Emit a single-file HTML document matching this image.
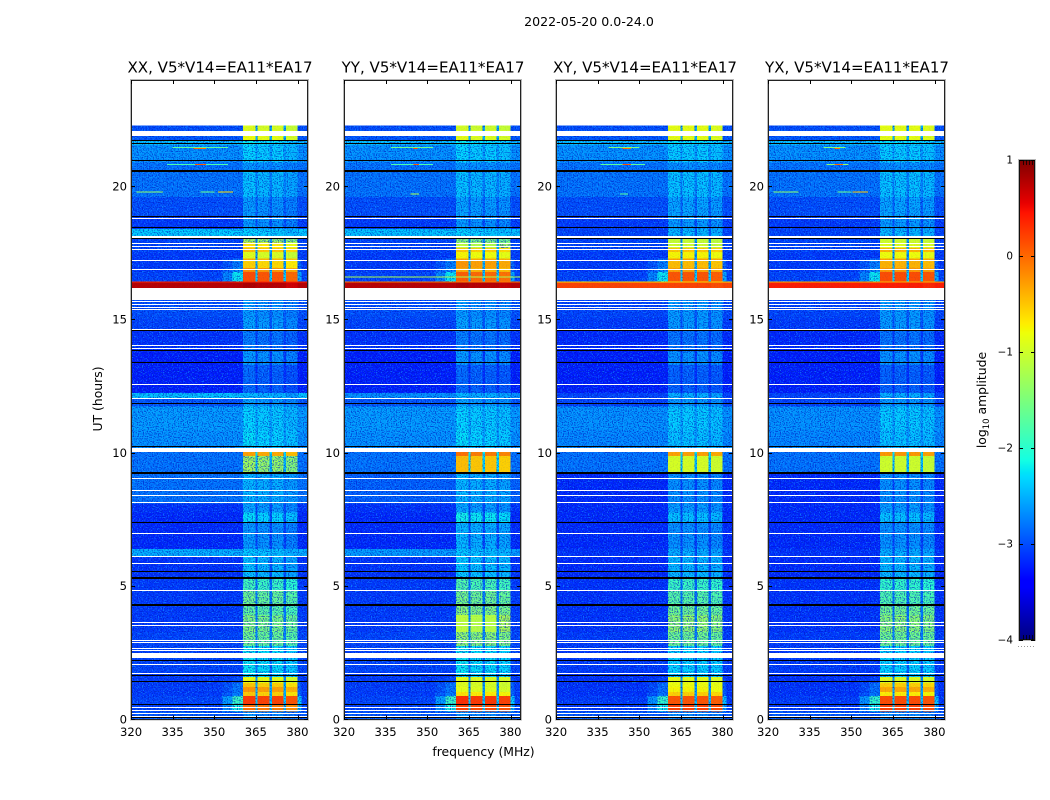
<!DOCTYPE html>
<html lang="en">
<head>
<meta charset="utf-8">
<title>2022-05-20 amplitude waterfall</title>
<style>
html,body{margin:0;padding:0;background:#fff;}
svg{display:block;}
text{font-family:"DejaVu Sans","Liberation Sans",sans-serif;fill:#000;}
.tick{font-size:11.6px;}
.ptitle{font-size:15.05px;text-anchor:middle;}
.label{font-size:12.4px;text-anchor:middle;}
</style>
</head>
<body>
<svg id="figure" xmlns="http://www.w3.org/2000/svg" width="1050" height="800" viewBox="0 0 1050 800">
  <defs>
    <filter id="speckle-light" x="0" y="0" width="100%" height="100%" color-interpolation-filters="sRGB">
      <feTurbulence type="fractalNoise" baseFrequency="0.8" numOctaves="1" seed="7"/>
      <feColorMatrix type="matrix" values="0 0 0 0 0.1  0 0 0 0 0.72  0 0 0 0 1  8 0 0 0 -4.3"/>
    </filter>
    <filter id="speckle-dark" x="0" y="0" width="100%" height="100%" color-interpolation-filters="sRGB">
      <feTurbulence type="fractalNoise" baseFrequency="0.8" numOctaves="1" seed="23"/>
      <feColorMatrix type="matrix" values="0 0 0 0 0  0 0 0 0 0.08  0 0 0 0 0.75  8 0 0 0 -4.1"/>
    </filter>
  </defs>
  <text x="589" y="26" style="font-size:12.6px;text-anchor:middle">2022-05-20 0.0-24.0</text>
  <text class="label" x="483.5" y="756">frequency (MHz)</text>
  <text class="label" transform="translate(102 399) rotate(-90)">UT (hours)</text>
  <text class="label" transform="translate(986 400) rotate(-90)">log<tspan dy="3" style="font-size:8.5px">10</tspan><tspan dy="-3"> amplitude</tspan></text>
  <g id="panels"></g>
  <g id="colorbar"></g>
</svg>
<script>
// ---- categories and axes ----
const polarizations = ["XX", "YY", "XY", "YX"];
const baselineLabel = "V5*V14=EA11*EA17";
const freqTicks = [320, 335, 350, 365, 380];
const hourTicks = [0, 5, 10, 15, 20];
const colorbarTicks = [1, 0, -1, -2, -3, -4];
const colorbarTickLabels = ["1", "0", "\u22121", "\u22122", "\u22123", "\u22124"];

// frequency bins (MHz): background, skirt, four sub-bands with gaps, roll-off
const freqEdges = [320, 353, 356.5, 360.4, 364.9, 365.5, 369.9, 370.9, 374.9, 375.9, 380, 381.5, 383.8];

// start hour (UT) of each time bin; last bin ends at dataEndHour
const timeBins = [0, 0.3, 0.54, 0.88, 1.03, 1.22, 1.37, 1.6, 1.76, 2.3,
  2.76, 3.28, 3.92, 4.3, 4.86, 5.27, 6.13, 6.4, 7.4, 7.76,
  8.1, 9.25, 9.88, 10.07, 10.25, 10.85, 11.75, 12.05, 12.25, 13.3,
  13.8, 14.6, 15.05, 16, 16.2, 16.4, 16.8, 16.95, 17.2, 17.3,
  17.55, 17.7, 17.9, 18.05, 18.1, 18.4, 18.9, 19.6, 20.55, 20.9,
  21.55, 21.75, 22.1];
const dataEndHour = 22.28;

// out-of-band level, log10 amplitude
const bgXX = [-2.95, -3.05, -3.05, -3.1, -3.1, -3.1, -3.1, -3.1, -3.05, -3.05,
  -3.05, -3.1, -3.1, -3.1, -3.1, -3.15, -2.5, -3.2, -3.2, -3.15,
  -2.8, -2.8, -2.8, -2.65, -2.65, -2.6, -2.95, -2.4, -3.25, -3.25,
  -3.15, -3.05, -3, -3.25, 0.75, -3.05, -3.1, -3.1, -3.1, -3.1,
  -3.05, -3.05, -3.05, -3.05, -2.35, -3.1, -3, -2.8, -2.8, -2.65,
  -2.4, -2.95, -3];
const bgYY = [-2.95, -3.05, -3.05, -3.1, -3.1, -3.1, -3.1, -3.1, -3.05, -3.05,
  -3.05, -3.1, -3.1, -3.1, -3.1, -3.15, -2.6, -3.2, -3.2, -3.15,
  -2.9, -2.8, -2.8, -2.65, -2.65, -2.6, -2.95, -2.65, -3.25, -3.25,
  -3.15, -3.05, -3, -3.25, 0.75, -3.05, -3.1, -3.1, -3.1, -3.1,
  -3.05, -3.05, -3.05, -3.05, -2.4, -3.1, -3, -2.8, -2.8, -2.65,
  -2.4, -2.95, -3];
const bgXY = [-2.95, -3.1, -3.1, -3.15, -3.15, -3.15, -3.15, -3.15, -3.1, -3.1,
  -3.1, -3.15, -3.15, -3.15, -3.15, -3.2, -3.15, -3.2, -3.2, -3.2,
  -3.2, -2.8, -2.8, -2.65, -2.7, -2.65, -3.05, -3.05, -3.25, -3.25,
  -3.2, -3.1, -3.05, -3.25, 0.2, -3.05, -3.1, -3.1, -3.1, -3.1,
  -3.05, -3.05, -3.05, -3.05, -3.05, -3.1, -3, -2.8, -2.8, -2.65,
  -2.4, -2.95, -3];
const bgYX = [-2.95, -3.1, -3.1, -3.15, -3.15, -3.15, -3.15, -3.15, -3.1, -3.1,
  -3.1, -3.15, -3.15, -3.15, -3.15, -3.2, -3.15, -3.2, -3.2, -3.2,
  -3.2, -2.8, -2.8, -2.65, -2.7, -2.65, -3.05, -3.05, -3.25, -3.25,
  -3.2, -3.1, -3.05, -3.25, 0.4, -3.05, -3.1, -3.1, -3.1, -3.1,
  -3.05, -3.05, -3.05, -3.05, -3.05, -3.1, -3, -2.8, -2.8, -2.65,
  -2.4, -2.95, -3];

// in-band level, log10 amplitude
const bandXX = [-2.7, -0.1, 0.2, -0.55, -0.3, -0.55, -0.85, -2.3, -2.25, -2.25,
  -1.6, -1.5, -1.7, -1.6, -1.9, -2.45, -2.4, -2.65, -2.3, -2.6,
  -2.5, -1.3, -0.35, -2.45, -2.3, -2.35, -2.6, -2.5, -2.9, -2.65,
  -2.8, -2.6, -2.65, -1.8, 0.75, 0.1, -0.25, -0.6, -0.4, -0.95,
  -0.5, -0.7, -1.3, -2.5, -2.35, -2.65, -2.65, -2.45, -2.65, -2.35,
  -2.25, -0.85, -0.95];
const bandYY = [-2.7, 0.15, 0.25, -0.7, -0.9, -0.95, -0.9, -2.3, -2.25, -2.25,
  -1.4, -1.15, -1.45, -1.55, -1.8, -2.4, -2.4, -2.5, -2.2, -2.6,
  -2.5, -0.5, -0.1, -2.45, -2.3, -2.35, -2.6, -2.5, -2.9, -2.65,
  -2.8, -2.6, -2.65, -1.8, 0.75, 0, -0.4, -0.3, -0.35, -0.8,
  -0.55, -1.15, -1.5, -2.6, -2.35, -2.65, -2.6, -2.45, -2.65, -2.35,
  -2.25, -0.9, -1];
const bandXY = [-2.7, 0.2, 0.1, -0.55, -0.75, -0.8, -0.85, -2.35, -2.3, -2.3,
  -1.55, -1.35, -1.55, -1.7, -1.9, -2.45, -2.5, -2.65, -2.4, -2.6,
  -2.65, -0.95, -0.3, -2.45, -2.4, -2.35, -2.6, -2.5, -2.9, -2.65,
  -2.8, -2.6, -2.6, -1.8, 0.2, 0.1, -0.3, -0.45, -0.3, -0.75,
  -0.5, -1, -1.05, -2.4, -2.45, -2.6, -2.55, -2.4, -2.65, -2.35,
  -2.25, -0.85, -0.85];
const bandYX = [-2.7, 0.2, 0.15, -0.7, -0.35, -0.55, -0.9, -2.35, -2.3, -2.3,
  -1.55, -1.4, -1.55, -1.75, -1.95, -2.45, -2.5, -2.65, -2.4, -2.6,
  -2.65, -1, -0.25, -2.45, -2.4, -2.35, -2.6, -2.5, -2.9, -2.65,
  -2.8, -2.6, -2.6, -1.8, 0.4, 0.15, -0.25, -0.4, -0.3, -0.8,
  -0.4, -0.9, -1, -2.4, -2.45, -2.6, -2.55, -2.4, -2.65, -2.35,
  -2.25, -0.85, -0.85];

// rise above background just below the band (log10 amplitude)
const skirtRise = [0, 0.95, 1.15, 0.35, 0.3, 0.3, 0.1, 0, 0, 0,
  0, 0, 0, 0, 0, 0, 0, 0, 0, 0,
  0, 0, 0, 0, 0, 0, 0, 0, 0, 0,
  0, 0, 0, 0, 0, 0.85, 0.4, 0.35, 0.25, 0,
  0, 0, 0, 0, 0, 0, 0, 0, 0, 0,
  0, 0, 0];

// relative strength of the four sub-bands
const subBandXX = [0.05, 0, 0, -0.1];
const subBandYY = [0.05, 0, 0, -0.05];
const subBandXY = [0, 0, 0, -0.05];
const subBandYX = [0, 0, 0, -0.05];

// narrow interference: hour, start MHz, end MHz, log10 amplitude
const rfiXX = [[21.47, 335, 355, -1.7], [21.43, 342.5, 347, 0], [20.82, 333, 355, -1.8], [20.82, 343, 347, 0.1],
  [19.8, 322, 331.5, -1.4], [19.8, 345, 350, -1.6], [19.8, 351.4, 356.8, -0.6], [16.42, 320, 383.8, 0.35]];
const rfiYY = [[21.47, 337, 352, -1.6], [21.43, 345, 346.5, 0.2], [20.82, 337, 352, -1.8], [20.82, 345, 347, 0.1],
  [19.72, 344, 347, -1.2], [16.42, 320, 383.8, -0.1], [16.6, 320, 383.8, -1.2]];
const rfiXY = [[21.47, 339, 350, -1.5], [21.43, 344, 347, 0], [20.82, 336, 352, -1.7], [20.82, 344, 347, 0.1],
  [19.72, 343, 346, -1.7], [16.42, 320, 383.8, -0.6]];
const rfiYX = [[21.47, 340, 348, -1.5], [21.43, 344, 346, 0], [20.82, 341, 349, -1.4], [20.82, 344, 347, 0],
  [19.8, 322, 331, -1.4], [19.8, 345, 350, -1.6], [19.8, 350.5, 356, -0.5], [16.42, 320, 383.8, -0.4]];

// flagged times (hours): thin white / black rows and thick blank ranges
const whiteLines = [0.105, 0.23, 0.33, 0.44, 1.72, 2.08, 2.58, 2.67, 2.88, 2.98,
  3.53, 3.65, 4.85, 5.86, 6.11, 6.99, 8.41, 8.59, 9.04, 12.06,
  12.58, 13.93, 14.03, 14.62, 15.37, 15.47, 15.56, 15.69, 16.89, 17.23,
  17.65, 17.76, 17.87, 18.1, 18.14, 18.8];
const whiteRanges = [[2.3, 2.5], [8.11, 8.17], [10.05, 10.17], [15.74, 16.03], [16.06, 16.2], [21.9, 22.1]];
const blackLines = [0.07, 0.57, 1.44, 1.65, 2.22, 5.56, 7.41, 10.24, 11.84, 13.38,
  13.83, 14.6, 18.04, 18.47, 18.89, 20.97, 21.6, 21.73];
const blackRanges = [[4.25, 4.32], [5.27, 5.34], [9.22, 9.3], [20.55, 20.62]];

// ---- axis functions ----
const panelLefts = [131, 344, 556, 768];
const panelWidth = 177, axTop = 80, axBottom = 719.5;
const hotLevel = -1.2;
const SVGNS = "http://www.w3.org/2000/svg";
function xScale(mhz) { return (mhz - 320) * 2.775; }
function yScale(h) { return axBottom - h * 26.65; }
function cScale(v) { return 160 + (1 - v) * 96; }
function clamp01(t) { return Math.max(0, Math.min(1, t)); }
function jet(v) {
  const t = clamp01((v + 4) / 5);
  const r = t < 0.35 ? 0 : t < 0.66 ? (t - 0.35) / 0.31 : t < 0.89 ? 1 : 1 - (t - 0.89) / 0.11 * 0.5;
  const g = t < 0.125 ? 0 : t < 0.375 ? (t - 0.125) / 0.25 : t < 0.64 ? 1 : t < 0.91 ? 1 - (t - 0.64) / 0.27 : 0;
  const b = t < 0.11 ? 0.5 + t / 0.11 * 0.5 : t < 0.34 ? 1 : t < 0.65 ? 1 - (t - 0.34) / 0.31 : 0;
  return "rgb(" + Math.round(r * 255) + "," + Math.round(g * 255) + "," + Math.round(b * 255) + ")";
}
function mk(tag, attrs, parent) {
  const el = document.createElementNS(SVGNS, tag);
  Object.keys(attrs).forEach(function (k) { el.setAttribute(k, attrs[k]); });
  parent.appendChild(el);
  return el;
}
function levelAt(bin, col, bg, band, sub) {
  const b = bg[bin], rise = skirtRise[bin], v = band[bin];
  const gap = v > b ? b + 0.22 * (v - b) : b;
  if (col === 0 || col === 11) return b;
  if (col === 1) return b + rise * 0.4;
  if (col === 2) return b + rise;
  if (col === 10) return b + rise * 0.6;
  if (col === 3) return v + sub[0];
  if (col === 5) return v + sub[1];
  if (col === 7) return v + sub[2];
  if (col === 9) return v + sub[3];
  return gap;
}

// ---- panels ----
const panelBg = [bgXX, bgYY, bgXY, bgYX];
const panelBand = [bandXX, bandYY, bandXY, bandYX];
const panelSub = [subBandXX, subBandYY, subBandXY, subBandYX];
const panelRfi = [rfiXX, rfiYY, rfiXY, rfiYX];
const panelsRoot = document.getElementById("panels");

polarizations.forEach(function (pol, p) {
  const g = mk("g", { transform: "translate(" + panelLefts[p] + " 0)" }, panelsRoot);
  
  

  const cells = mk("g", { "shape-rendering": "crispEdges" }, g);
  
  
  const hotCells = [];
  timeBins.forEach(function (start, i) {
    const end = i + 1 < timeBins.length ? timeBins[i + 1] : dataEndHour;
    for (let c = 0; c < freqEdges.length - 1; c++) {
      const x0 = xScale(freqEdges[c]);
      const x1 = c === freqEdges.length - 2 ? panelWidth : xScale(freqEdges[c + 1]);
      const level = levelAt(i, c, panelBg[p], panelBand[p], panelSub[p]);
      const cell = mk("rect", {
        x: x0, y: yScale(end), width: x1 - x0, height: yScale(start) - yScale(end),
        fill: jet(level)
      }, cells);
      
      
      if (level > hotLevel) hotCells.push(cell);
    }
  });

  const dataTop = yScale(dataEndHour);
  const lightNoise = mk("rect", { x: 0, y: dataTop, width: panelWidth, height: axBottom - dataTop, filter: "url(#speckle-light)", opacity: 0.5 }, g);
  
  
  const darkNoise = mk("rect", { x: 0, y: dataTop, width: panelWidth, height: axBottom - dataTop, filter: "url(#speckle-dark)", opacity: 0.6 }, g);
  
  

  // strong signal stays smooth: redraw it above the speckle
  const hotGroup = mk("g", { "shape-rendering": "crispEdges", opacity: 0.88 }, g);
  
  
  hotCells.forEach(function (cell) { hotGroup.appendChild(cell.cloneNode(false)); });

  const rfiGroup = mk("g", { "shape-rendering": "crispEdges" }, g);
  
  
  panelRfi[p].forEach(function (s) {
    const st = mk("rect", { x: xScale(s[1]), y: yScale(s[0]) - 0.5, width: Math.min(panelWidth, xScale(s[2]) - xScale(s[1])), height: 1, fill: jet(s[3]) }, rfiGroup);
    
    
  });

  const flags = mk("g", { "shape-rendering": "crispEdges" }, g);
  
  
  function drawLine(h, color) {
    const ln = mk("rect", { x: 0, y: Math.floor(yScale(h)), width: panelWidth, height: 1, fill: color }, flags);
    
    
  }
  function drawRange(r, color) {
    const rg = mk("rect", { x: 0, y: Math.round(yScale(r[1])), width: panelWidth, height: Math.round(yScale(r[0])) - Math.round(yScale(r[1])), fill: color }, flags);
    
    
  }
  whiteLines.forEach(function (h) { drawLine(h, "#fff"); });
  whiteRanges.forEach(function (r) { drawRange(r, "#fff"); });
  blackLines.forEach(function (h) { drawLine(h, "#000"); });
  blackRanges.forEach(function (r) { drawRange(r, "#000"); });

  // frame
  const frameOuter = mk("rect", { x: -0.5, y: axTop - 0.5, width: panelWidth + 1, height: axBottom - axTop + 1, fill: "none", stroke: "#b8b8b8", "stroke-width": 1 }, g);
  
  
  const frame = mk("rect", { x: 0.5, y: axTop + 0.5, width: panelWidth - 1, height: axBottom - axTop - 0.5, fill: "none", stroke: "#222", "stroke-width": 1 }, g);
  
  

  // x ticks
  freqTicks.forEach(function (f) {
    const x = Math.round(xScale(f)) + 0.5;
    const t1 = mk("line", { x1: x, x2: x, y1: axTop, y2: axTop + 4, stroke: "#000" }, g);
    
    
    const t2 = mk("line", { x1: x, x2: x, y1: axBottom, y2: axBottom - 4, stroke: "#000" }, g);
    
    
    const lab = mk("text", { x: xScale(f), y: 736, class: "tick", "text-anchor": "middle" }, g);
    
    
    lab.textContent = String(f);
  });
  // y ticks
  hourTicks.forEach(function (h) {
    const y = Math.floor(yScale(h)) + 0.5;
    const t1 = mk("line", { x1: 0, x2: 4, y1: y, y2: y, stroke: "#000" }, g);
    
    
    const t2 = mk("line", { x1: panelWidth, x2: panelWidth - 4, y1: y, y2: y, stroke: "#000" }, g);
    
    
    const lab = mk("text", { x: -4, y: yScale(h) + 3.8, class: "tick", "text-anchor": "end" }, g);
    
    
    lab.textContent = String(h);
  });
  const title = mk("text", { x: panelWidth / 2 + 0.5, y: 72.5, class: "ptitle" }, g);
  
  
  title.textContent = pol + ", " + baselineLabel;
});

// ---- colorbar ----
const cbRoot = document.getElementById("colorbar");
const cbLeft = 1019, cbRight = 1035;
for (let py = cScale(1); py < cScale(-4); py++) {
  const swatch = mk("rect", { x: cbLeft, y: py, width: cbRight - cbLeft, height: 1, fill: jet(1 - (py + 0.5 - cScale(1)) / 96), "shape-rendering": "crispEdges" }, cbRoot);
  
  
}
const cbEdge = mk("rect", { x: cbLeft - 0.5, y: cScale(1) - 0.5, width: cbRight - cbLeft + 1, height: cScale(-4) - cScale(1) + 1, fill: "none", stroke: "#b8b8b8" }, cbRoot);


const cbFrame = mk("rect", { x: cbLeft + 0.5, y: cScale(1) + 0.5, width: cbRight - cbLeft - 1, height: cScale(-4) - cScale(1) - 1, fill: "none", stroke: "#111" }, cbRoot);


colorbarTicks.forEach(function (v, i) {
  const y = cScale(v) + 0.5;
  const a = mk("line", { x1: cbLeft, x2: cbLeft + 4, y1: y, y2: y, stroke: "#000" }, cbRoot);
  
  
  const b = mk("line", { x1: cbRight, x2: cbRight - 4, y1: y, y2: y, stroke: "#000" }, cbRoot);
  
  
  const lab = mk("text", { x: 1013, y: cScale(v) + 3.5, "text-anchor": "end", style: "font-size:10.4px" }, cbRoot);
  
  
  lab.textContent = colorbarTickLabels[i];
});
[1023.5, 1026.5, 1029.5, 1032.5].forEach(function (x) {
  const a = mk("line", { x1: x, x2: x, y1: cScale(1), y2: cScale(1) + 5, stroke: "#000", "stroke-opacity": 0.75 }, cbRoot);
  
  
  const b = mk("line", { x1: x, x2: x, y1: cScale(-4), y2: cScale(-4) - 5, stroke: "#000", "stroke-opacity": 0.75 }, cbRoot);
  
  
});
[1018, 1021, 1024, 1027, 1030, 1033].forEach(function (x) {
  const d = mk("rect", { x: x, y: 646, width: 1, height: 1, fill: "#999" }, cbRoot);
  
  
});
</script>
</body>
</html>
